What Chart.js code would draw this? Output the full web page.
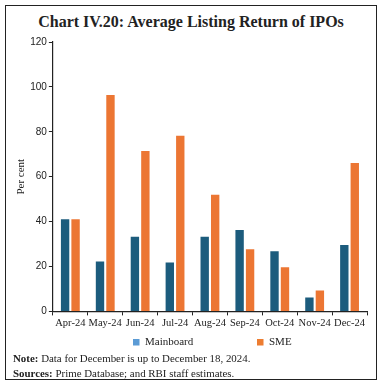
<!DOCTYPE html>
<html><head><meta charset="utf-8">
<script src="https://cdn.jsdelivr.net/npm/chart.js@4/dist/chart.umd.min.js"></script>
<style>
html,body{margin:0;padding:0;background:#fff;width:382px;height:384px;overflow:hidden;}
#frame{position:absolute;left:5px;top:5px;width:370px;height:373px;border:1.5px solid #222;}
#title{position:absolute;left:0;top:13px;width:382px;text-align:center;font-family:"Liberation Serif",serif;font-weight:bold;font-size:16px;color:#222;}
#wrap{position:absolute;left:0;top:0;width:382px;height:384px;}
.note{position:absolute;left:13px;font-family:"Liberation Serif",serif;font-size:10.9px;color:#222;}
</style></head>
<body>
<div id="frame"></div>
<div id="title">Chart IV.20: Average Listing Return of IPOs</div>
<div id="wrap"><canvas id="c" width="382" height="384"></canvas></div>
<div class="note" style="top:352px"><b>Note:</b> Data for December is up to December 18, 2024.</div>
<div class="note" style="top:367px"><b>Sources:</b> Prime Database; and RBI staff estimates.</div>
<script>
const categories = ["Apr-24","May-24","Jun-24","Jul-24","Aug-24","Sep-24","Oct-24","Nov-24","Dec-24"];
const mainboard = [41, 22.2, 33.3, 21.8, 33.3, 36.3, 26.8, 6.2, 29.6];
const sme = [41, 96.4, 71.5, 78.2, 52, 27.7, 19.7, 9.3, 66.1];
const yTicks = [0, 20, 40, 60, 80, 100, 120];
const seriesNames = ["Mainboard", "SME"];
const barColors = ["#1c5c7d", "#ec7633"];
const legendColors = ["#5b9bd5", "#ed7d31"];

const legendPlugin = {
  id: 'customLegend',
  afterDraw(chart) {
    const ctx = chart.ctx;
    ctx.save();
    ctx.font = '11px "Liberation Serif", serif';
    ctx.textBaseline = 'middle';
    const xs = [133, 257];
    const y = 342;
    seriesNames.forEach((n, i) => {
      ctx.fillStyle = legendColors[i];
      ctx.fillRect(xs[i], y - 3, 6.5, 6.5);
      ctx.fillStyle = '#222';
      ctx.fillText(n, xs[i] + 12, y + 0.5);
    });
    ctx.restore();
  }
};

new Chart(document.getElementById('c'), {
  type: 'bar',
  data: {
    labels: categories,
    datasets: [
      { label: seriesNames[0], data: mainboard, backgroundColor: barColors[0], barPercentage: 0.8, categoryPercentage: 0.6 },
      { label: seriesNames[1], data: sme, backgroundColor: barColors[1], barPercentage: 0.8, categoryPercentage: 0.6 }
    ]
  },
  options: {
    responsive: false,
    animation: false,
    devicePixelRatio: 1,
    layout: { padding: { left: 15, right: 15, top: 42, bottom: 52 } },
    plugins: { legend: { display: false }, tooltip: { enabled: false }, title: { display: false } },
    scales: {
      x: {
        offset: true,
        grid: { display: true, offset: true, drawOnChartArea: false, drawTicks: true, tickLength: 4, color: '#222' },
        border: { color: '#222', width: 1.2 },
        ticks: { color: '#222', font: { family: '"Liberation Serif", serif', size: 10.5 }, padding: 2, maxRotation: 0, autoSkip: false }
      },
      y: {
        min: 0, max: 120,
        afterBuildTicks: (s) => { s.ticks = yTicks.map(v => ({ value: v })); },
        grid: { display: true, drawOnChartArea: false, drawTicks: true, tickLength: 4, color: '#222' },
        border: { color: '#222', width: 1.2 },
        ticks: { color: '#222', font: { family: '"Liberation Sans", sans-serif', size: 10 }, padding: 2 },
        title: { display: true, text: 'Per cent', color: '#222', font: { family: '"Liberation Serif", serif', size: 11 }, padding: { top: 0, bottom: 0 } }
      }
    }
  },
  plugins: [legendPlugin]
});
</script>
</body></html>
